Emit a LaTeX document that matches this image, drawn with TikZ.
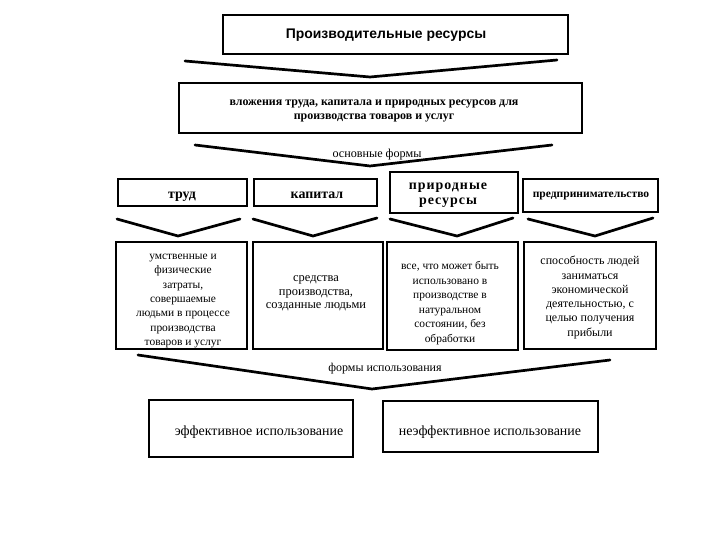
\documentclass[tikz,border=0pt]{standalone}
\usepackage{fontspec}
\setmainfont{Liberation Serif}
\newfontfamily\titlefont{Liberation Sans}
\begin{document}
\begin{tikzpicture}[x=1bp,y=-1bp,
  box/.style={draw,line width=1.7bp,inner sep=0pt},
  chev/.style={line width=2.7bp,line join=miter,line cap=round},
  txt/.style={inner sep=0pt,align=center},
  rowb/.style={txt,font=\fontsize{14}{15}\selectfont\bfseries},
  celltxt/.style={txt,font=\fontsize{11.5}{14.5}\selectfont},
  lbl/.style={inner sep=0pt,font=\fontsize{12.2}{13}\selectfont}]
\useasboundingbox (0,0) rectangle (720,540);
\fill[white] (0,0) rectangle (720,540);
% top
\node[box,minimum width=345bp,minimum height=39bp] (top) at (395.5,34.5) {};
\node[txt,font=\titlefont\fontsize{14}{15}\selectfont\bfseries] (top-t) at (386,35.5) {Производительные ресурсы};
\draw[chev] (185,61) -- (370,77) -- (557,60);
\node[box,minimum width=403bp,minimum height=50bp] (inv) at (380.5,108) {};
\node[txt,font=\fontsize{12}{15}\selectfont\bfseries] (inv-t) at (374,111)
  {вложения труда, капитала и природных ресурсов для\\производства товаров и услуг};
\draw[chev] (195,145) -- (370,166) -- (552,145);
\node[lbl] (osn) at (377,155) {основные формы};
% row of four
\node[box,minimum width=129bp,minimum height=27bp] (trud) at (182.5,192.5) {};
\node[rowb] (trud-t) at (182,197) {труд};
\node[box,minimum width=123bp,minimum height=27bp] (kap) at (315.5,192.5) {};
\node[rowb] (kap-t) at (317,195) {капитал};
\node[box,minimum width=128bp,minimum height=41bp] (prir) at (454,192.5) {};
\node[rowb,font=\fontsize{14}{15}\selectfont\bfseries\addfontfeature{LetterSpace=7}] (prir-t) at (448,195) {природные\\ресурсы};
\node[box,minimum width=135bp,minimum height=33bp] (pred) at (590.5,195.5) {};
\node[txt,font=\fontsize{11.6}{13}\selectfont\bfseries] (pred-t) at (591,196.5) {предпринимательство};
% small chevrons
\draw[chev] (117,219) -- (178,236) -- (240,219);
\draw[chev] (253,219) -- (313,236) -- (377,218);
\draw[chev] (390,219) -- (457,236) -- (513,218);
\draw[chev] (528,219) -- (595,236) -- (653,218);
% descriptions
\node[box,minimum width=131bp,minimum height=107bp] (d1) at (181.5,295.5) {};
\node[celltxt] (d1-t) at (183,301) {умственные и\\физические\\затраты,\\совершаемые\\людьми в процессе\\производства\\товаров и услуг};
\node[box,minimum width=130bp,minimum height=107bp] (d2) at (318,295.5) {};
\node[celltxt,font=\fontsize{12.5}{13.4}\selectfont] (d2-t) at (316,293.5) {средства\\производства,\\созданные людьми};
\node[box,minimum width=131bp,minimum height=108bp] (d3) at (452.5,296) {};
\node[celltxt,font=\fontsize{11.5}{14.6}\selectfont] (d3-t) at (450,303) {все, что может быть\\использовано в\\производстве в\\натуральном\\состоянии, без\\обработки};
\node[box,minimum width=132bp,minimum height=107bp] (d4) at (590,295.5) {};
\node[celltxt,font=\fontsize{12}{14.3}\selectfont] (d4-t) at (590,297.5) {способность людей\\заниматься\\экономической\\деятельностью,  с\\целью получения\\прибыли};
% bottom
\draw[chev] (138,355) -- (372,389) -- (610,360);
\node[lbl,font=\fontsize{12}{13}\selectfont] (form) at (385,368.7) {формы использования};
\node[box,minimum width=204bp,minimum height=57bp] (eff) at (251,428.5) {};
\node[txt,font=\fontsize{14}{15}\selectfont] (eff-t) at (259,432) {эффективное использование};
\node[box,minimum width=215bp,minimum height=51bp] (neff) at (490.5,426.5) {};
\node[txt,font=\fontsize{14}{15}\selectfont] (neff-t) at (490,432) {неэффективное использование};
\end{tikzpicture}
\end{document}
